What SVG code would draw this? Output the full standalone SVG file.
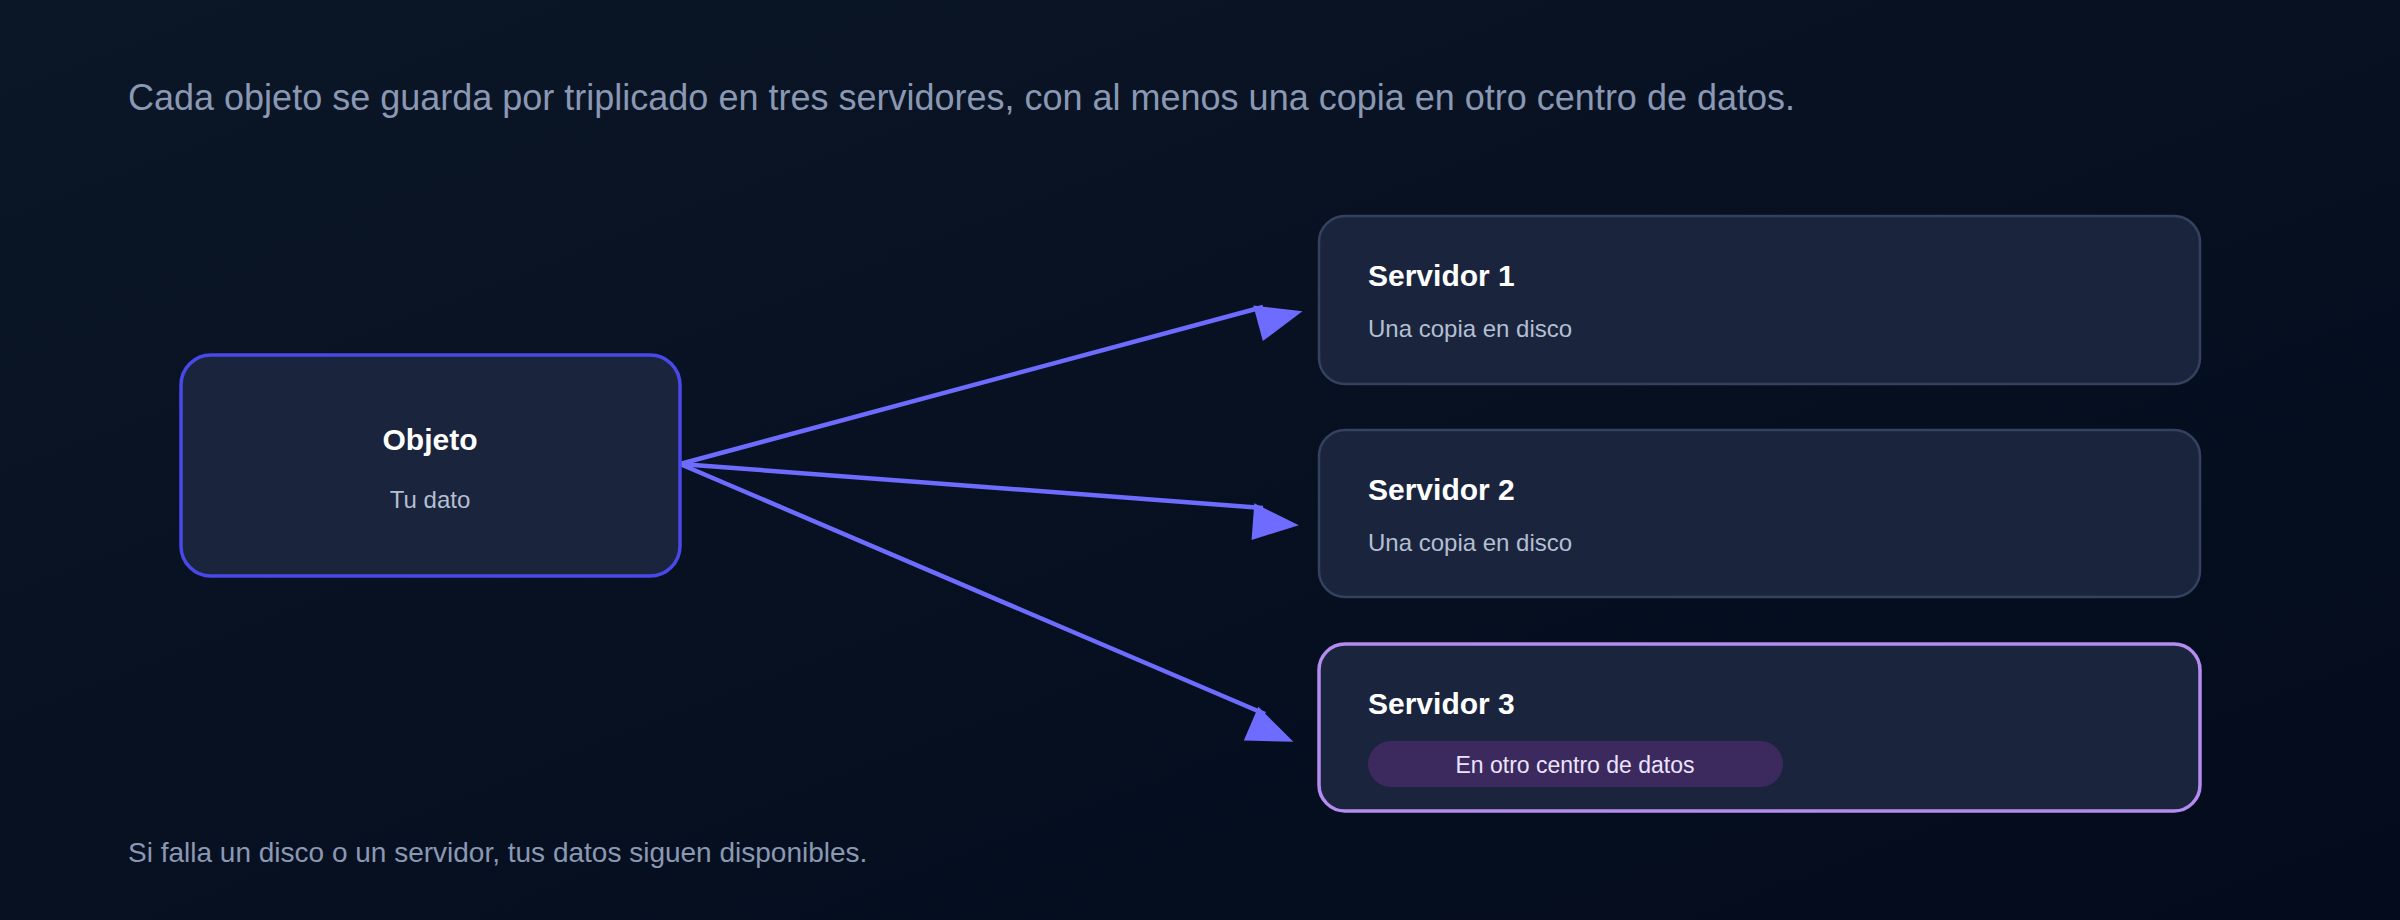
<svg xmlns="http://www.w3.org/2000/svg" width="2400" height="920" viewBox="0 0 2400 920">
<defs>
<linearGradient id="bg" x1="0" y1="0" x2="1" y2="1">
<stop offset="0" stop-color="#0b1626"/><stop offset="1" stop-color="#030b1d"/>
</linearGradient>
<marker id="ah" markerWidth="10" markerHeight="8" refX="9" refY="4" orient="auto" markerUnits="userSpaceOnUse" viewBox="0 0 10 8" style="overflow:visible">
<path d="M0,0 L10,4 L0,8 Z" fill="#6e6cff" transform="scale(4.6)"/>
</marker>
<style>
text{font-family:"Liberation Sans",Arial,sans-serif}
.box{fill:#1a253d;stroke:#34425f;stroke-width:2.5}
.h{fill:#ffffff;font-weight:bold;font-size:30px}
.s{fill:#b4bfd3;font-size:24px}
.c{stroke:#6e6cff;stroke-width:4.5;fill:none}
</style>
</defs>
<rect width="2400" height="920" fill="url(#bg)"/>
<text x="128" y="110" font-size="36" fill="#8a98b3">Cada objeto se guarda por triplicado en tres servidores, con al menos una copia en otro centro de datos.</text>
<g id="connectors">
<line class="c" x1="680" y1="464" x2="1263" y2="307" marker-end="url(#ah)"/>
<line class="c" x1="680" y1="464" x2="1263" y2="508" marker-end="url(#ah)"/>
<line class="c" x1="680" y1="464" x2="1265" y2="714" marker-end="url(#ah)"/>
</g>
<g id="objeto">
<rect x="181" y="355" width="499" height="221" rx="30" fill="#1a253d" stroke="#4a48e8" stroke-width="3.5"/>
<text x="430" y="450" text-anchor="middle" class="h" font-size="33">Objeto</text>
<text x="430" y="508" text-anchor="middle" class="s">Tu dato</text>
</g>
<g id="servidor1">
<rect class="box" x="1319" y="216" width="881" height="168" rx="26"/>
<text x="1368" y="286" class="h">Servidor 1</text>
<text x="1368" y="337" class="s">Una copia en disco</text>
</g>
<g id="servidor2">
<rect class="box" x="1319" y="430" width="881" height="167" rx="26"/>
<text x="1368" y="500" class="h">Servidor 2</text>
<text x="1368" y="551" class="s">Una copia en disco</text>
</g>
<g id="servidor3">
<rect x="1319" y="644" width="881" height="167" rx="26" fill="#1a253d" stroke="#b48cf0" stroke-width="3.5"/>
<text x="1368" y="714" class="h">Servidor 3</text>
<rect x="1368" y="741" width="415" height="46" rx="23" fill="#3c2a5e"/>
<text x="1575" y="773" text-anchor="middle" font-size="23" fill="#ece4ff">En otro centro de datos</text>
</g>
<text x="128" y="862" font-size="28" fill="#8a98b3">Si falla un disco o un servidor, tus datos siguen disponibles.</text>
</svg>
